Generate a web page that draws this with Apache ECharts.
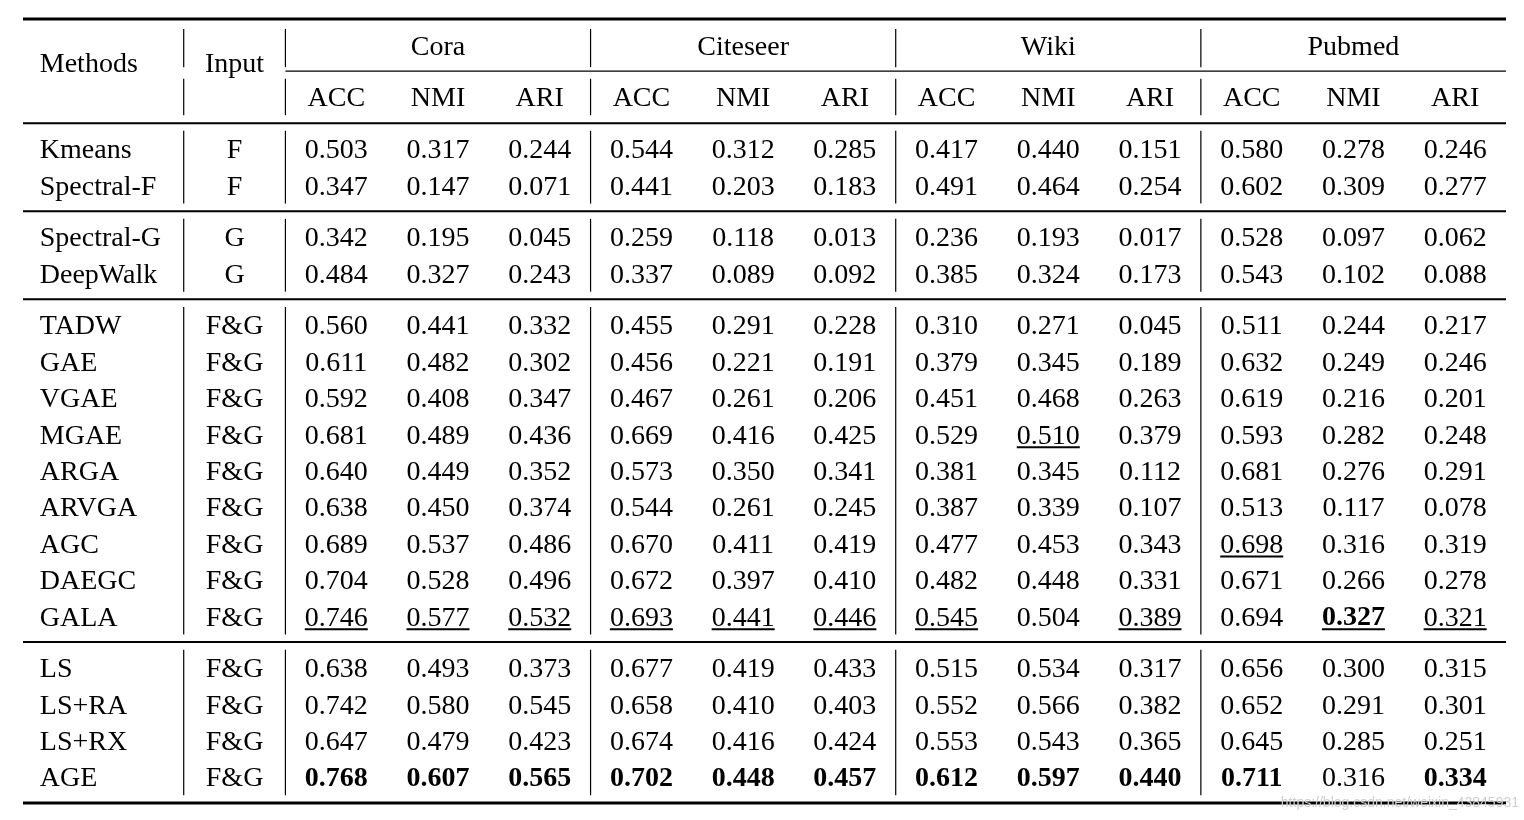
<!DOCTYPE html>
<html><head><meta charset="utf-8">
<script src="https://cdn.jsdelivr.net/npm/echarts@6/dist/echarts.min.js"></script>
<style>html,body{margin:0;padding:0;background:#fff}#c{width:1524px;height:820px}</style>
</head><body><div id="c"></div>
<script>
// ---------- data ----------
const datasets = ['Cora', 'Citeseer', 'Wiki', 'Pubmed'];
const metrics = ['ACC', 'NMI', 'ARI'];
const methods = ['Kmeans', 'Spectral-F', 'Spectral-G', 'DeepWalk', 'TADW', 'GAE', 'VGAE', 'MGAE', 'ARGA',
  'ARVGA', 'AGC', 'DAEGC', 'GALA', 'LS', 'LS+RA', 'LS+RX', 'AGE'];
const inputs = ['F', 'F', 'G', 'G', 'F&G', 'F&G', 'F&G', 'F&G', 'F&G', 'F&G', 'F&G', 'F&G', 'F&G', 'F&G', 'F&G', 'F&G', 'F&G'];
const groupSizes = [2, 2, 9, 4];
const cora = [
  [0.503, 0.317, 0.244], [0.347, 0.147, 0.071], [0.342, 0.195, 0.045], [0.484, 0.327, 0.243],
  [0.560, 0.441, 0.332], [0.611, 0.482, 0.302], [0.592, 0.408, 0.347], [0.681, 0.489, 0.436],
  [0.640, 0.449, 0.352], [0.638, 0.450, 0.374], [0.689, 0.537, 0.486], [0.704, 0.528, 0.496],
  [0.746, 0.577, 0.532], [0.638, 0.493, 0.373], [0.742, 0.580, 0.545], [0.647, 0.479, 0.423],
  [0.768, 0.607, 0.565]];
const citeseer = [
  [0.544, 0.312, 0.285], [0.441, 0.203, 0.183], [0.259, 0.118, 0.013], [0.337, 0.089, 0.092],
  [0.455, 0.291, 0.228], [0.456, 0.221, 0.191], [0.467, 0.261, 0.206], [0.669, 0.416, 0.425],
  [0.573, 0.350, 0.341], [0.544, 0.261, 0.245], [0.670, 0.411, 0.419], [0.672, 0.397, 0.410],
  [0.693, 0.441, 0.446], [0.677, 0.419, 0.433], [0.658, 0.410, 0.403], [0.674, 0.416, 0.424],
  [0.702, 0.448, 0.457]];
const wiki = [
  [0.417, 0.440, 0.151], [0.491, 0.464, 0.254], [0.236, 0.193, 0.017], [0.385, 0.324, 0.173],
  [0.310, 0.271, 0.045], [0.379, 0.345, 0.189], [0.451, 0.468, 0.263], [0.529, 0.510, 0.379],
  [0.381, 0.345, 0.112], [0.387, 0.339, 0.107], [0.477, 0.453, 0.343], [0.482, 0.448, 0.331],
  [0.545, 0.504, 0.389], [0.515, 0.534, 0.317], [0.552, 0.566, 0.382], [0.553, 0.543, 0.365],
  [0.612, 0.597, 0.440]];
const pubmed = [
  [0.580, 0.278, 0.246], [0.602, 0.309, 0.277], [0.528, 0.097, 0.062], [0.543, 0.102, 0.088],
  [0.511, 0.244, 0.217], [0.632, 0.249, 0.246], [0.619, 0.216, 0.201], [0.593, 0.282, 0.248],
  [0.681, 0.276, 0.291], [0.513, 0.117, 0.078], [0.698, 0.316, 0.319], [0.671, 0.266, 0.278],
  [0.694, 0.327, 0.321], [0.656, 0.300, 0.315], [0.652, 0.291, 0.301], [0.645, 0.285, 0.251],
  [0.711, 0.316, 0.334]];
// emphasis: [rowIndex, valueColumnIndex 0..11]
const boldCells = [[12, 10], [16, 0], [16, 1], [16, 2], [16, 3], [16, 4], [16, 5], [16, 6], [16, 7], [16, 8], [16, 9], [16, 11]];
const underlineCells = [[7, 7], [10, 9], [12, 0], [12, 1], [12, 2], [12, 3], [12, 4], [12, 5], [12, 6], [12, 8], [12, 10], [12, 11]];
const watermark = 'https://blog.csdn.net/weixin_43845931';

// ---------- layout (in axis units) ----------
const GAP = 0.42, HALF_RULE = 0.71;
const FONT = '"Liberation Serif", "Times New Roman", serif';
const FS = 28;
const TEXT_DY = 2;
const values = [cora, citeseer, wiki, pubmed];

const rowY = [];
{ let r = 0; groupSizes.forEach((n, g) => { for (let i = 0; i < n; i++) { rowY.push(r + g * GAP); r++; } }); }

const cells = [];   // {x,y,text,bold,underline,align}
const isIn = (list, r, c) => list.some(p => p[0] === r && p[1] === c);
const H1 = -2.83, H2 = -1.43, HM = -2.36;
cells.push({ x: -0.915, y: HM, text: 'Methods', align: 'left' });
cells.push({ x: 1, y: HM, text: 'Input' });
datasets.forEach((d, di) => {
  cells.push({ x: 3 + di * 3, y: H1, text: d });
  metrics.forEach((m, mi) => cells.push({ x: 2 + di * 3 + mi, y: H2, text: m }));
});
methods.forEach((m, r) => {
  cells.push({ x: -0.915, y: rowY[r], text: m, align: 'left' });
  cells.push({ x: 1, y: rowY[r], text: inputs[r] });
  values.forEach((tbl, di) => tbl[r].forEach((v, mi) => {
    const c = di * 3 + mi;
    cells.push({ x: 2 + c, y: rowY[r], text: v.toFixed(3), bold: isIn(boldCells, r, c), underline: isIn(underlineCells, r, c) });
  }));
});

// rules: [x1,y1,x2,y2,width]
const XL = -1.08, XR = 13.5;
const lines = [];
const last = rowY[rowY.length - 1];
lines.push([XL, H1 - 0.74, XR, H1 - 0.74, 3]);          // top rule
lines.push([1.5, H2 - HALF_RULE, XR, H2 - HALF_RULE, 1.2]); // cmidrule
lines.push([XL, rowY[0] - HALF_RULE, XR, rowY[0] - HALF_RULE, 2]);
{ let r = 0; groupSizes.forEach((n, g) => { r += n; if (g < groupSizes.length - 1) { const y = rowY[r - 1] + HALF_RULE; lines.push([XL, y, XR, y, 2]); } }); }
lines.push([XL, last + HALF_RULE, XR, last + HALF_RULE, 3]); // bottom rule
const vx = [0.5, 1.5, 4.5, 7.5, 10.5];
vx.forEach(x => {
  lines.push([x, H1 - 0.47, x, H1 + 0.58, 1.2]);
  lines.push([x, H2 - 0.5, x, H2 + 0.5, 1.2]);
  let r = 0;
  groupSizes.forEach(n => { lines.push([x, rowY[r] - 0.5, x, rowY[r + n - 1] + 0.5, 1.2]); r += n; });
});

const measure = (() => { const c = document.createElement('canvas').getContext('2d');
  return (t, bold) => { c.font = (bold ? 'bold ' : '') + FS + 'px ' + FONT; return c.measureText(t).width; }; })();

const chart = echarts.init(document.getElementById('c'), null, { renderer: 'canvas' });
chart.setOption({
  backgroundColor: '#fff',
  animation: false,
  grid: { left: 23, right: 18, top: 18, bottom: 16 },
  xAxis: { type: 'value', min: XL, max: XR, show: false },
  yAxis: { type: 'value', min: -3.6, max: 18.0, inverse: true, show: false },
  series: [
    {
      type: 'custom', clip: false, silent: true,
      data: lines,
      encode: { x: [0, 2], y: [1, 3] },
      renderItem: (params, api) => {
        const a = api.coord([api.value(0), api.value(1)]);
        const b = api.coord([api.value(2), api.value(3)]);
        return { type: 'line', shape: { x1: a[0], y1: a[1], x2: b[0], y2: b[1] },
          style: { stroke: '#000', lineWidth: api.value(4) } };
      }
    },
    {
      type: 'custom', clip: false, silent: true,
      data: cells.map(c => [c.x, c.y]),
      encode: { x: 0, y: 1 },
      renderItem: (params, api) => {
        const c = cells[params.dataIndex];
        const p = api.coord([api.value(0), api.value(1)]);
        const children = [{
          type: 'text', x: p[0], y: p[1] + TEXT_DY,
          style: { text: c.text, fill: '#000', fontFamily: FONT, fontSize: FS, fontWeight: c.bold ? 'bold' : 'normal',
            align: c.align || 'center', verticalAlign: 'middle', textAlign: c.align || 'center', textVerticalAlign: 'middle' }
        }];
        if (c.underline) {
          const w = measure(c.text, c.bold);
          children.push({ type: 'line', shape: { x1: p[0] - w / 2, y1: p[1] + 13, x2: p[0] + w / 2, y2: p[1] + 13 },
            style: { stroke: '#000', lineWidth: 2 } });
        }
        return { type: 'group', children };
      }
    }
  ],
  graphic: [{
    type: 'text', right: 5, bottom: 10, z: 100,
    style: { text: watermark, fill: '#cfcfcf', font: '14px "Liberation Sans", Arial, sans-serif' }
  }]
});
</script>
</body></html>
